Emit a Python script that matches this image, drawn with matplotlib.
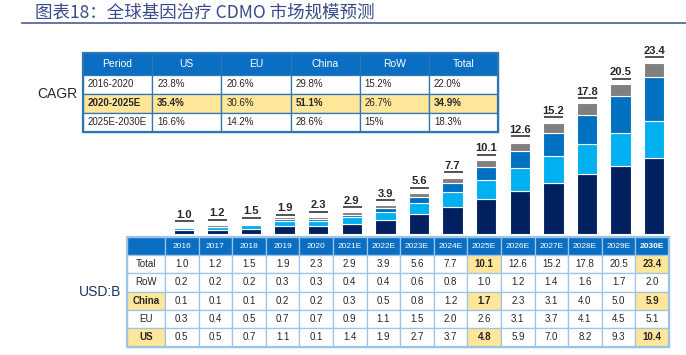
import matplotlib
matplotlib.use("Agg")
import matplotlib.pyplot as plt
from matplotlib.patches import Rectangle
from matplotlib.transforms import offset_copy

# ---------------- data ----------------
years = ['2016', '2017', '2018', '2019', '2020', '2021E', '2022E', '2023E',
         '2024E', '2025E', '2026E', '2027E', '2028E', '2029E', '2030E']
total = [1.0, 1.2, 1.5, 1.9, 2.3, 2.9, 3.9, 5.6, 7.7, 10.1, 12.6, 15.2, 17.8, 20.5, 23.4]
row = [0.2, 0.2, 0.2, 0.3, 0.3, 0.4, 0.4, 0.6, 0.8, 1.0, 1.2, 1.4, 1.6, 1.7, 2.0]
china = [0.1, 0.1, 0.1, 0.2, 0.2, 0.3, 0.5, 0.8, 1.2, 1.7, 2.3, 3.1, 4.0, 5.0, 5.9]
eu = [0.3, 0.4, 0.5, 0.7, 0.7, 0.9, 1.1, 1.5, 2.0, 2.6, 3.1, 3.7, 4.1, 4.5, 5.1]
us = [0.5, 0.5, 0.7, 1.1, 1.1, 1.4, 1.9, 2.7, 3.7, 4.8, 5.9, 7.0, 8.2, 9.3, 10.4]
# US row as printed in the source table (2020 reads 0.1 there)
us_table = [0.5, 0.5, 0.7, 1.1, 0.1, 1.4, 1.9, 2.7, 3.7, 4.8, 5.9, 7.0, 8.2, 9.3, 10.4]
highlight_years = ['2025E', '2030E']

cagr_cols = ['Period', 'US', 'EU', 'China', 'RoW', 'Total']
cagr_periods = ['2016-2020', '2020-2025E', '2025E-2030E']
cagr_us = ['23.8%', '35.4%', '16.6%']
cagr_eu = ['20.6%', '30.6%', '14.2%']
cagr_china = ['29.8%', '51.1%', '28.6%']
cagr_row = ['15.2%', '26.7%', '15%']
cagr_total = ['22.0%', '34.9%', '18.3%']

title = '图表18：全球基因治疗 CDMO 市场规模预测'

# ---------------- style ----------------
C_US = '#002060'
C_EU = '#00b0f0'
C_CN = '#0070c0'
C_ROW = '#808080'
C_HEAD = '#0a6fc2'
C_YEL = '#ffe699'
C_TXT = '#262626'
FONT = ['Liberation Sans Narrow', 'Liberation Sans', 'DejaVu Sans']
CJK = ['Noto Sans CJK SC', 'DejaVu Sans']

W, H = 686, 355
fig = plt.figure(figsize=(W / 100, H / 100), dpi=100)

# pixel-space overlay axes for layout (tables, titles)
ax = fig.add_axes([0, 0, 1, 1])
ax.set_xlim(0, W)
ax.set_ylim(H, 0)
ax.axis('off')
ax.set_zorder(2)
ax.patch.set_alpha(0)

# ---------------- bar axes ----------------
bx_left, bx_w = 167, 504
bx_bot, bx_top = 234, 40
px_per_unit = 7.32
bax = fig.add_axes([bx_left / W, (H - bx_bot) / H, bx_w / W, (bx_bot - bx_top) / H])
bax.set_xlim(-0.5, len(years) - 0.5)
bax.set_ylim(0, (bx_bot - bx_top) / px_per_unit)
bax.axis('off')
bax.set_zorder(1)

xs = list(range(len(years)))
bw = 0.61
bottom = [0.0] * len(years)
for vals, col in [(us, C_US), (eu, C_EU), (china, C_CN), (row, C_ROW)]:
    bax.bar(xs, vals, bw, bottom=bottom, color=col, edgecolor='white', linewidth=0.8)
    bottom = [b + v for b, v in zip(bottom, vals)]

tr_line = offset_copy(bax.transData, fig=fig, y=3.8, units='points')
for i, t in enumerate(total):
    bax.plot([i - 0.27, i + 0.3], [t, t], color='#444444', lw=1.3, transform=tr_line,
             solid_capstyle='butt')
    bax.annotate(f'{t:.1f}', (i, t), xytext=(0, 5.0), textcoords='offset points',
                 ha='center', va='bottom', fontsize=8, fontweight='bold',
                 color=C_TXT, family=FONT)

# ---------------- title ----------------
ax.text(35, 13, title, fontsize=12.6, color='#3a4a8c', family=CJK,
        ha='left', va='center')
ax.plot([22, W], [22.5, 22.5], color='#5a6a9c', lw=1.3)

# ---------------- CAGR table ----------------
ct_left, ct_right = 83, 498
ct_rows = [53, 74.5, 93.5, 112.5, 131.5]
cw = (ct_right - ct_left) / len(cagr_cols)
cols_data = [cagr_periods, cagr_us, cagr_eu, cagr_china, cagr_row, cagr_total]
bold_cols = {0, 1, 3, 5}
for j, name in enumerate(cagr_cols):
    x0 = ct_left + j * cw
    ax.add_patch(Rectangle((x0, ct_rows[0]), cw, ct_rows[1] - ct_rows[0],
                           facecolor=C_HEAD, edgecolor='#2e75b6', lw=0.9))
    ax.text(x0 + cw / 2, (ct_rows[0] + ct_rows[1]) / 2, name, ha='center', va='center',
            color='white', fontsize=7.5, family=FONT)
    for r in range(3):
        y0, y1 = ct_rows[r + 1], ct_rows[r + 2]
        hl = (r == 1)
        ax.add_patch(Rectangle((x0, y0), cw, y1 - y0,
                               facecolor=C_YEL if hl else 'white',
                               edgecolor='#2e75b6', lw=0.9))
        ax.text(x0 + 5, (y0 + y1) / 2, cols_data[j][r], ha='left', va='center',
                color=C_TXT, fontsize=7, family=FONT,
                fontweight='bold' if (hl and j in bold_cols) else 'normal')
ax.add_patch(Rectangle((ct_left, ct_rows[0]), ct_right - ct_left, ct_rows[-1] - ct_rows[0],
                       facecolor='none', edgecolor='#2e75b6', lw=1.6))
ax.text(57, 94, 'CAGR', ha='center', va='center', fontsize=10, color=C_TXT, family=FONT)

# ---------------- bottom table ----------------
bt_left, lab_right = 127, 165
yw = bx_w / len(years)
bt_rows = [237, 255, 273.3, 291.6, 309.9, 328.2, 346.5]
row_labels = ['Total', 'RoW', 'China', 'EU', 'US']
row_vals = [total, row, china, eu, us_table]
hl_rows = {'Total', 'China', 'US'}
EDGE = '#9dc3e6'

# header
ax.add_patch(Rectangle((bt_left, bt_rows[0]), lab_right - bt_left, bt_rows[1] - bt_rows[0],
                       facecolor=C_HEAD, edgecolor=EDGE, lw=0.9))
for i, yr in enumerate(years):
    x0 = lab_right + i * yw
    ax.add_patch(Rectangle((x0, bt_rows[0]), yw, bt_rows[1] - bt_rows[0],
                           facecolor=C_HEAD, edgecolor=EDGE, lw=0.9))
    ax.text(x0 + yw / 2, (bt_rows[0] + bt_rows[1]) / 2, yr, ha='center', va='center',
            color='white', fontsize=6, family=FONT,
            fontweight='bold' if yr == years[-1] else 'normal')

for r, (lab, vals) in enumerate(zip(row_labels, row_vals)):
    y0, y1 = bt_rows[r + 1], bt_rows[r + 2]
    lab_hl = lab in ('China', 'US')
    ax.add_patch(Rectangle((bt_left, y0), lab_right - bt_left, y1 - y0,
                           facecolor=C_YEL if lab_hl else 'white', edgecolor=EDGE, lw=0.9))
    ax.text((bt_left + lab_right) / 2, (y0 + y1) / 2, lab, ha='center', va='center',
            color=C_TXT, fontsize=7, family=FONT,
            fontweight='bold' if lab_hl else 'normal')
    for i, v in enumerate(vals):
        x0 = lab_right + i * yw
        hl = (lab in hl_rows) and (years[i] in highlight_years)
        ax.add_patch(Rectangle((x0, y0), yw, y1 - y0,
                               facecolor=C_YEL if hl else 'white', edgecolor=EDGE, lw=0.9))
        ax.text(x0 + yw / 2, (y0 + y1) / 2, f'{v:.1f}', ha='center', va='center',
                color=C_TXT, fontsize=7, family=FONT,
                fontweight='bold' if hl else 'normal')

ax.add_patch(Rectangle((bt_left, bt_rows[0]), lab_right + len(years) * yw - bt_left,
                       bt_rows[-1] - bt_rows[0], facecolor='none', edgecolor=EDGE, lw=1.6))
ax.text(100, 292, 'USD:B', ha='center', va='center', fontsize=10, color='#1f3864',
        family=FONT)

fig.savefig('out.png', dpi=100)
